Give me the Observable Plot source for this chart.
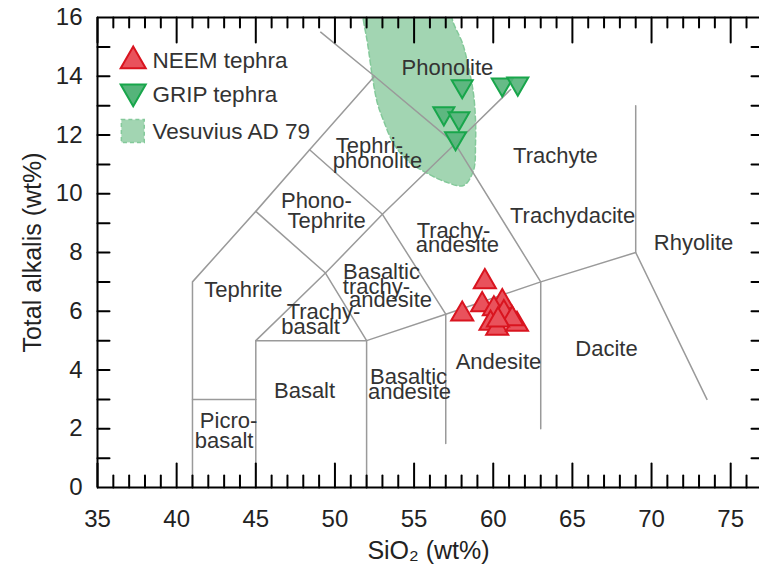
<!DOCTYPE html>
<html><head><meta charset="utf-8">
<script src="https://cdn.jsdelivr.net/npm/d3@7"></script>
<script src="https://cdn.jsdelivr.net/npm/@observablehq/plot@0.6"></script>
<style>body{margin:0;background:#fff}svg{display:block}</style>
</head><body><div id="chart"></div>
<script>
// ---- data ----
const xMajorTicks = [35, 40, 45, 50, 55, 60, 65, 70, 75];
const xMinorTicks = d3.range(36, 77).filter(d => d % 5 !== 0);
const yTickLabels = [0, 2, 4, 6, 8, 10, 12, 14, 16];
const yMinorTicks = d3.range(1, 16);

// NEEM tephra (SiO2, total alkalis)
const neemSiO2 =   [59.47, 58.04, 59.30, 60.57, 60.04, 60.67, 59.83, 60.25, 61.50, 61.20, 60.30];
const neemAlkali = [7.00,  5.90,  6.22,  6.32,  6.08,  5.95,  5.59,  5.42,  5.55,  5.74,  5.70];
// GRIP tephra
const gripSiO2 =   [58.04, 60.57, 61.55, 56.88, 57.83, 57.62];
const gripAlkali = [13.66, 13.72, 13.75, 12.74, 12.57, 11.89];
// Vesuvius AD 79 field outline
const vesSiO2 =   [51.6, 51.80, 52.06, 52.37, 52.69, 53.07, 53.70, 54.58, 55.85, 57.11, 58.12, 58.75, 58.88, 58.88, 58.75, 58.44, 58.06, 57.49, 57.0, 54.5];
const vesAlkali = [16.7, 15.90, 15.12, 13.96, 13.07, 12.49, 11.71, 11.13, 10.69, 10.38, 10.28, 10.79, 11.71, 12.49, 13.41, 14.30, 15.12, 15.80, 16.6, 17.1];

// TAS boundary polylines
const tasLines = [
  [[41,0],[41,7],[45,9.4],[48.4,11.5],[52.5,14],[49.1,15.5]],
  [[52.5,14],[57.6,11.7],[63,7],[63,2]],
  [[41,3],[45,3]],
  [[45,0],[45,5],[52,5],[52,0]],
  [[45,5],[49.4,7.3],[53,9.3],[57.6,11.7],[61.1,13.55]],
  [[49.4,7.3],[52,5]],
  [[45,9.4],[49.4,7.3]],
  [[48.4,11.5],[53,9.3],[57,5.9],[57,1.5]],
  [[52,5],[57,5.9],[63,7],[69,8],[73.5,3]],
  [[69,8],[69,13]]
];

// Field names: [text, SiO2 (centre), alkali (baseline)]
const fieldNames = [
  ["Phonolite", 57.11, 14.03],
  ["Tephri-", 52.18, 11.40],
  ["phonolite", 52.69, 10.89],
  ["Phono-", 48.83, 9.50],
  ["Tephrite", 49.47, 8.85],
  ["Tephrite", 44.22, 6.47],
  ["Trachy-", 49.28, 5.75],
  ["basalt", 48.46, 5.21],
  ["Basaltic", 52.94, 7.11],
  ["trachy-", 52.62, 6.60],
  ["andesite", 53.51, 6.13],
  ["Basaltic", 54.65, 3.54],
  ["andesite", 54.71, 3.00],
  ["Andesite", 60.33, 4.02],
  ["Dacite", 67.15, 4.49],
  ["Rhyolite", 72.65, 8.07],
  ["Trachydacite", 65.01, 8.99],
  ["Trachyte", 63.93, 11.03],
  ["Trachy-", 57.49, 8.51],
  ["andesite", 57.74, 8.03],
  ["Picro-", 43.28, 2.01],
  ["basalt", 43.00, 1.33],
  ["Basalt", 48.08, 3.03]
];
const legendLabels = ["NEEM tephra", "GRIP tephra", "Vesuvius AD 79"];

// ---- derived tables ----
const neem = neemSiO2.map((x, i) => ({x, y: neemAlkali[i]}));
const grip = gripSiO2.map((x, i) => ({x, y: gripAlkali[i]}));
const ves = vesSiO2.map((x, i) => ({x, y: vesAlkali[i]}));
const lineRows = tasLines.flatMap((pts, k) => pts.map(([x, y]) => ({x, y, k})));
const names = fieldNames.map(([t, x, y]) => ({t, x, y}));

const NEEM_FILL = "#e9525c", NEEM_STROKE = "#d9141f";
const GRIP_FILL = "#55b47a", GRIP_STROKE = "#18a64b";
const VES_FILL = "#a2d5b2", VES_STROKE = "#84c99a";

const tickShape = {draw(ctx, l) { ctx.moveTo(0, 0); ctx.lineTo(0, -l); }};
const downTriangle = {draw(ctx, size) {
  const y = -Math.sqrt(size / (Math.sqrt(3) * 3));
  ctx.moveTo(0, -2 * y);
  ctx.lineTo(-Math.sqrt(3) * y, y);
  ctx.lineTo(Math.sqrt(3) * y, y);
  ctx.closePath();
}};
const XMAX = 76.82;
const tk = {shape: tickShape, anchor: "start", stroke: "black", strokeWidth: 2};

const plot = Plot.plot({
  width: 759, height: 569,
  marginLeft: 97, marginRight: 0, marginTop: 17, marginBottom: 82,
  x: {domain: [35, XMAX]},
  y: {domain: [0, 16]},
  style: {fontFamily: "'Liberation Sans', Arial, sans-serif", color: "#222", background: "white"},
  marks: [
    Plot.line(ves, {x: "x", y: "y", curve: "catmull-rom-closed", fill: VES_FILL, stroke: VES_STROKE,
      strokeWidth: 1.5, strokeDasharray: "5,3", clip: true}),
    Plot.line(lineRows, {x: "x", y: "y", z: "k", stroke: "#9a9a9a", strokeWidth: 1.5}),
    Plot.text(names, {x: "x", y: "y", text: "t", lineAnchor: "bottom", textAnchor: "middle",
      fontSize: 22, fill: "#333"}),
    Plot.dot(grip, {x: "x", y: "y", symbol: downTriangle, r: 7.8, fill: GRIP_FILL, fillOpacity: 0.9,
      stroke: GRIP_STROKE, strokeWidth: 2}),
    Plot.dot(neem, {x: "x", y: "y", symbol: "triangle", r: 8.2, fill: NEEM_FILL,
      stroke: NEEM_STROKE, strokeWidth: 2}),
    // legend
    Plot.dot([legendLabels[0]], {frameAnchor: "top-left", dx: 35.7, dy: 43.4, symbol: "triangle", r: 9.3,
      fill: NEEM_FILL, stroke: NEEM_STROKE, strokeWidth: 2}),
    Plot.dot([legendLabels[1]], {frameAnchor: "top-left", dx: 35.7, dy: 74.2, symbol: downTriangle, r: 9.3,
      fill: GRIP_FILL, stroke: GRIP_STROKE, strokeWidth: 2}),
    Plot.dot([legendLabels[2]], {frameAnchor: "top-left", dx: 35.3, dy: 113.5, symbol: "square", r: 12.9,
      fill: VES_FILL, stroke: VES_STROKE, strokeWidth: 1.5, strokeDasharray: "4,3"}),
    Plot.text([legendLabels[0]], {frameAnchor: "top-left", dx: 55, dy: 50, lineAnchor: "bottom", textAnchor: "start", fontSize: 22.5, fill: "#333", text: d => d}),
    Plot.text([legendLabels[1]], {frameAnchor: "top-left", dx: 55, dy: 84, lineAnchor: "bottom", textAnchor: "start", fontSize: 22.5, fill: "#333", text: d => d}),
    Plot.text([legendLabels[2]], {frameAnchor: "top-left", dx: 55, dy: 121, lineAnchor: "bottom", textAnchor: "start", fontSize: 22.5, fill: "#333", text: d => d}),
    // ticks
    Plot.vector(xMinorTicks, {x: d => d, y: () => 0, length: 12, rotate: 0, ...tk}),
    Plot.vector(xMajorTicks, {x: d => d, y: () => 0, length: 24, rotate: 0, ...tk}),
    Plot.vector(xMinorTicks, {x: d => d, y: () => 16, length: 10, rotate: 180, ...tk}),
    Plot.vector(xMajorTicks, {x: d => d, y: () => 16, length: 25, rotate: 180, ...tk}),
    Plot.vector(yMinorTicks, {x: () => 35, y: d => d, length: 12, rotate: 90, ...tk}),
    Plot.vector(yMinorTicks, {x: () => XMAX, y: d => d, length: 8, rotate: 270, ...tk}),
    Plot.ruleY([0, 16], {stroke: "black", strokeWidth: 2}),
    Plot.ruleX([35], {stroke: "black", strokeWidth: 2}),
    Plot.axisX(xMajorTicks, {anchor: "bottom", tickSize: 0, tickPadding: 22, fontSize: 24, label: null}),
    Plot.axisY(yTickLabels, {anchor: "left", tickSize: 0, tickPadding: 15, fontSize: 24, label: null}),
    Plot.text(["SiO₂ (wt%)"], {frameAnchor: "bottom", dy: 71, lineAnchor: "bottom", textAnchor: "middle", fontSize: 25, fill: "#222", text: d => d}),
    Plot.text(["Total alkalis (wt%)"], {frameAnchor: "left", dx: -65, rotate: -90, textAnchor: "middle", lineAnchor: "middle", fontSize: 25, fill: "#222", text: d => d})
  ]
});
document.getElementById("chart").appendChild(plot);
</script>
</body></html>
